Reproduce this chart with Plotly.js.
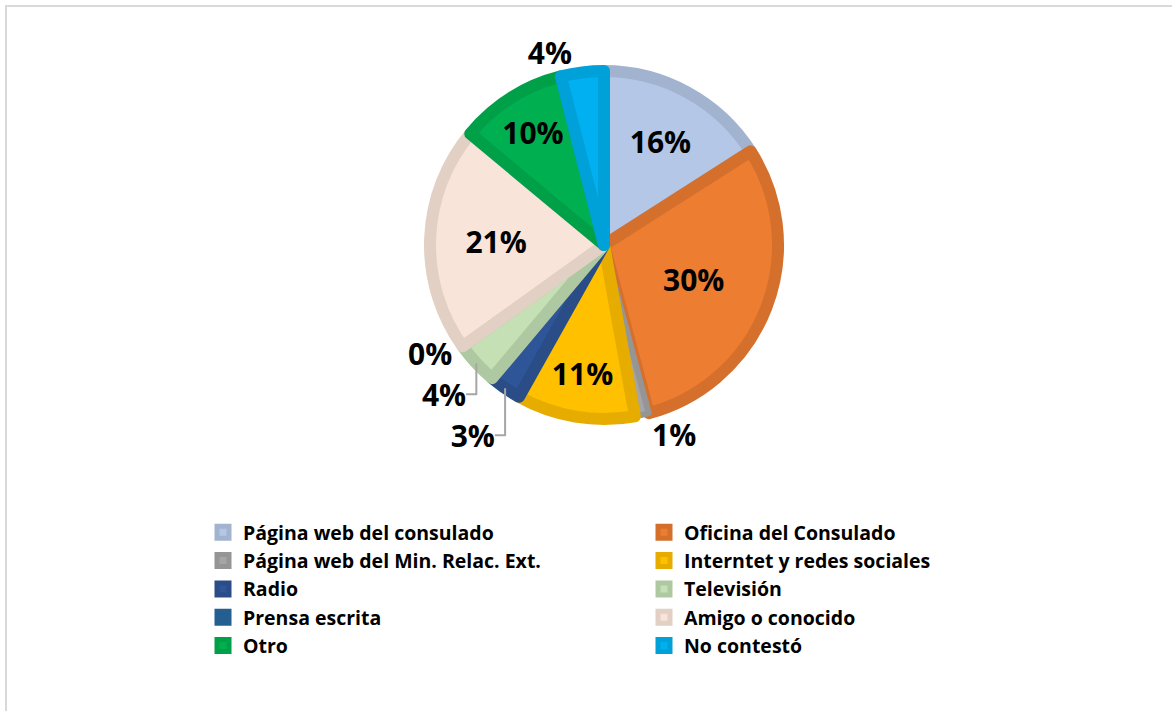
<!DOCTYPE html>
<html>
<head>
<meta charset="utf-8">
<script src="https://cdn.plot.ly/plotly-3.0.1.min.js"></script>
<style>
html,body{margin:0;padding:0;background:#fff;}
#wrap{position:relative;width:1172px;height:711px;overflow:hidden;}
#chart{position:absolute;left:0;top:0;width:1172px;height:711px;}
#frame{position:absolute;left:5px;top:5px;width:1200px;height:800px;border-left:2px solid #d9d9d9;border-top:2px solid #d9d9d9;pointer-events:none;}
</style>
</head>
<body>
<div id="wrap"><div id="chart"></div><div id="frame"></div></div>
<script>
// Data
const categories = [
  "Página web del consulado",
  "Oficina del Consulado",
  "Página web del Min. Relac. Ext.",
  "Interntet y redes sociales",
  "Radio",
  "Televisión",
  "Prensa escrita",
  "Amigo o conocido",
  "Otro",
  "No contestó"
];
const percentValues = [16, 30, 1.3, 11, 3, 4, 0, 21, 10, 4];
const percentLabels = ["16%", "30%", "1%", "11%", "3%", "4%", "0%", "21%", "10%", "4%"];

// Styles
const fillColors = ["#B4C7E7","#ED7D31","#A5A5A5","#FFC000","#2E5597","#C5E0B4","#255E91","#F8E4D8","#00B050","#00B0F0"];
const lineColors = ["#A2B3D0","#D5702C","#959595","#E6AD00","#2A4D88","#AEC9A1","#255E91","#E3D0C4","#00A048","#00A0D8"];
const lineWidths = [12, 12, 6, 12, 12, 12, 5, 12, 12, 12];
const textPositions = ["inside","inside","outside","inside","outside","outside","outside","inside","inside","outside"];

const W = 1172, H = 711;
const cx = 604, cy = 245, r = 174;
const labelFont = { family: "'Open Sans', sans-serif", size: 30, color: "#000", weight: "bold" };

const trace = {
  type: "pie",
  labels: categories,
  values: percentValues,
  text: percentLabels,
  textinfo: "text",
  texttemplate: "%{text}",
  textposition: textPositions,
  insidetextorientation: "horizontal",
  sort: false,
  direction: "clockwise",
  rotation: 0,
  automargin: false,
  marker: { colors: fillColors, line: { color: lineColors, width: lineWidths } },
  textfont: labelFont,
  insidetextfont: labelFont,
  outsidetextfont: labelFont,
  domain: { x: [(cx - r) / W, (cx + r) / W], y: [1 - (cy + r) / H, 1 - (cy - r) / H] },
  hoverinfo: "label+text"
};

const layout = {
  width: W, height: H,
  margin: { l: 0, r: 0, t: 0, b: 0, autoexpand: false },
  paper_bgcolor: "#fff",
  showlegend: true,
  legend: {
    orientation: "h",
    x: 203 / W, xanchor: "left",
    y: 1 - 513 / H, yanchor: "top",
    entrywidth: 396, entrywidthmode: "pixels",
    traceorder: "normal",
    itemclick: false,
    font: { family: "'Open Sans', sans-serif", size: 19.5, color: "#000", weight: "bold" },
    tracegroupgap: 0
  }
};

Plotly.newPlot("chart", [trace], layout, { displayModeBar: false, staticPlot: true }).then(function (gd) {
  gd.querySelectorAll("path.textline").forEach(function (p) {
    p.style.stroke = "#a6a6a6";
    p.style.strokeWidth = "2px";
  });
});
</script>
</body>
</html>
